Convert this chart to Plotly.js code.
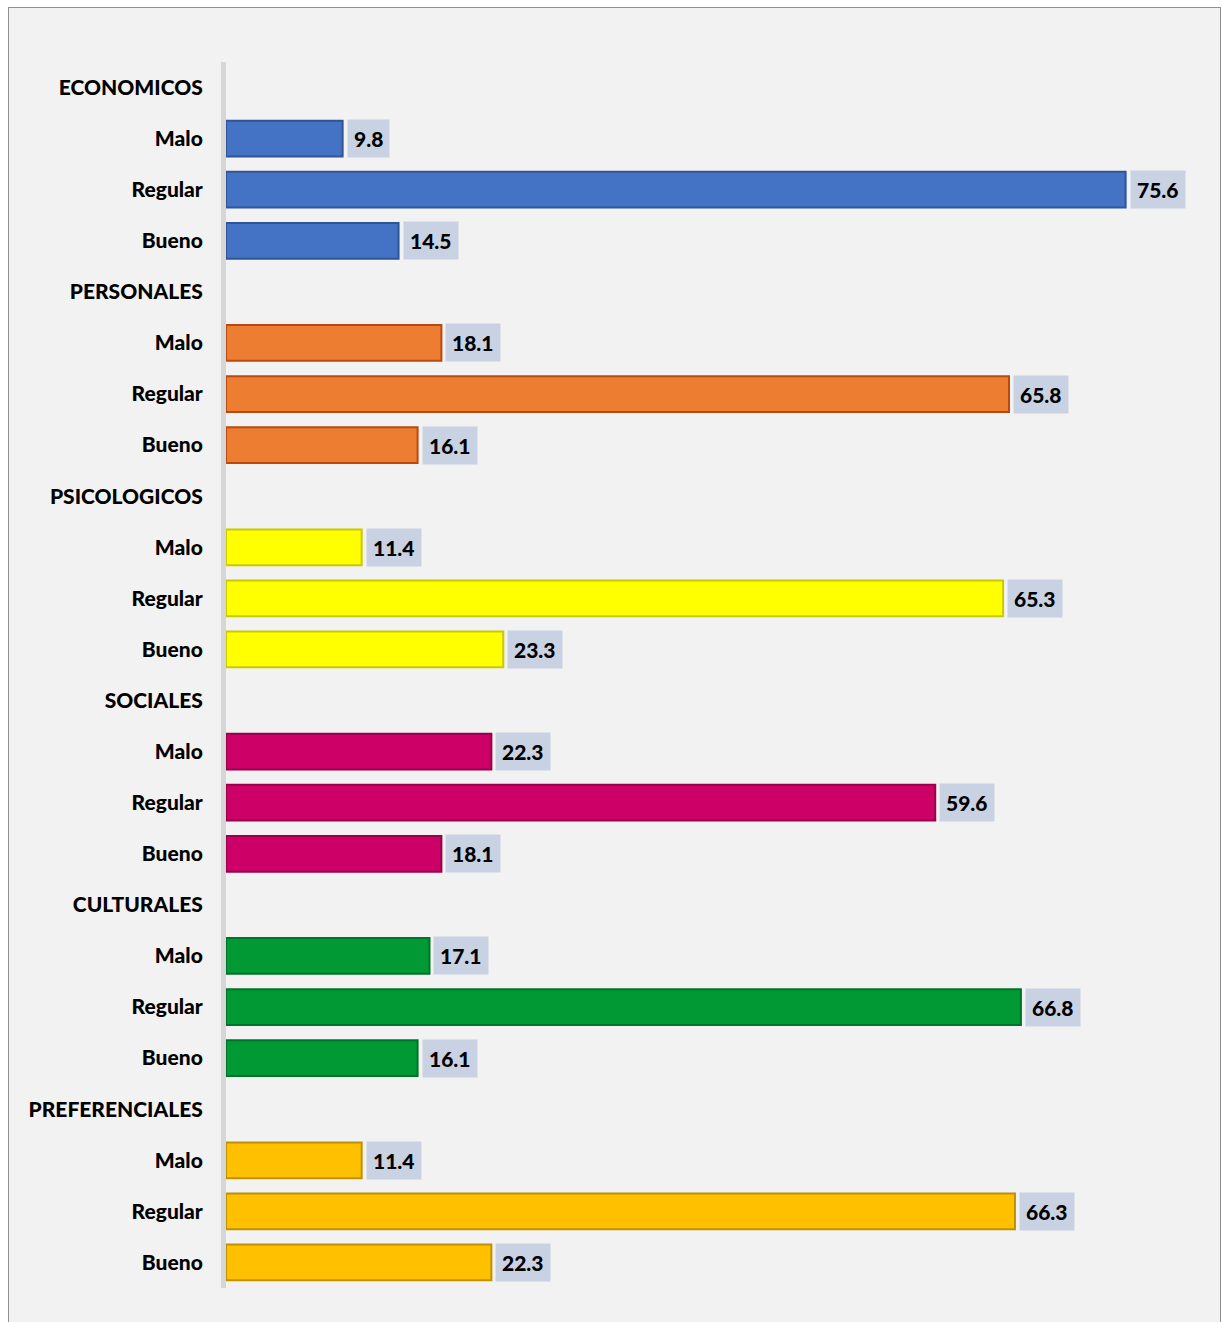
<!DOCTYPE html>
<html>
<head>
<meta charset="utf-8">
<script src="https://cdn.plot.ly/plotly-3.0.1.min.js"></script>
<style>
  html, body { margin: 0; padding: 0; background: #ffffff; width: 1222px; height: 1322px; overflow: hidden; }
  #frame { position: absolute; left: 8px; top: 7px; width: 1211px; height: 1340px; border: 1px solid #8f8f8f; background: #f2f2f2; }
  #chart { position: absolute; left: 0; top: 0; width: 1222px; height: 1322px; }
</style>
</head>
<body>
<div id="frame"></div>
<div id="chart"></div>
<script>
// ---- data ----
const groups = ["ECONOMICOS", "PERSONALES", "PSICOLOGICOS", "SOCIALES", "CULTURALES", "PREFERENCIALES"];
const levels = ["Malo", "Regular", "Bueno"];
const economicos     = [9.8, 75.6, 14.5];
const personales     = [18.1, 65.8, 16.1];
const psicologicos   = [11.4, 65.3, 23.3];
const sociales       = [22.3, 59.6, 18.1];
const culturales     = [17.1, 66.8, 16.1];
const preferenciales = [11.4, 66.3, 22.3];
const seriesValues = [economicos, personales, psicologicos, sociales, culturales, preferenciales];

// ---- styles ----
const fillColors = ["#4472c4", "#ed7d31", "#ffff00", "#cc0066", "#009933", "#ffc000"];
const edgeColors = ["#2f5597", "#b94a12", "#c9c900", "#99004c", "#00732a", "#bf9000"];
const fontFam = "Lato, 'Open Sans', 'Liberation Sans', sans-serif";

// category keys (unique) and their displayed tick text
const catKeys = [], catText = [];
groups.forEach(g => {
  catKeys.push(g); catText.push(g);
  levels.forEach(l => { catKeys.push(g + "|" + l); catText.push(l); });
});

const traces = groups.map((g, i) => ({
  type: "bar",
  orientation: "h",
  x: seriesValues[i],
  y: levels.map(l => g + "|" + l),
  marker: { color: fillColors[i], line: { color: edgeColors[i], width: 2 } },
  hoverinfo: "x+y",
  showlegend: false
}));

const annotations = [];
groups.forEach((g, i) => {
  seriesValues[i].forEach((v, j) => {
    annotations.push({
      x: v, y: g + "|" + levels[j], xref: "x", yref: "y",
      text: v.toFixed(1), showarrow: false,
      xanchor: "left", yanchor: "middle",
      xshift: 4, yshift: 0,
      font: { family: fontFam, size: 21, weight: 900, color: "#000000" },
      bgcolor: "#c9d2e2", borderpad: 6
    });
  });
});

const layout = {
  width: 1222, height: 1322,
  margin: { l: 226, r: 22, t: 62, b: 34 },
  paper_bgcolor: "rgba(0,0,0,0)",
  plot_bgcolor: "rgba(0,0,0,0)",
  barmode: "overlay",
  bargap: 0.3,
  xaxis: {
    range: [0, 81.85],
    showgrid: false, zeroline: false, showline: false,
    showticklabels: false, ticks: "", fixedrange: true
  },
  yaxis: {
    type: "category",
    categoryorder: "array",
    categoryarray: catKeys,
    tickvals: catKeys,
    ticktext: catText,
    range: [catKeys.length - 0.5, -0.5],
    showgrid: false, zeroline: false,
    showline: true, linecolor: "#d6d6d6", linewidth: 5,
    ticks: "", ticklabelstandoff: 14,
    tickfont: { family: fontFam, size: 21, weight: 900, color: "#000000" },
    fixedrange: true
  },
  annotations: annotations
};

Plotly.newPlot("chart", traces, layout, { displayModeBar: false, staticPlot: true });
</script>
</body>
</html>
